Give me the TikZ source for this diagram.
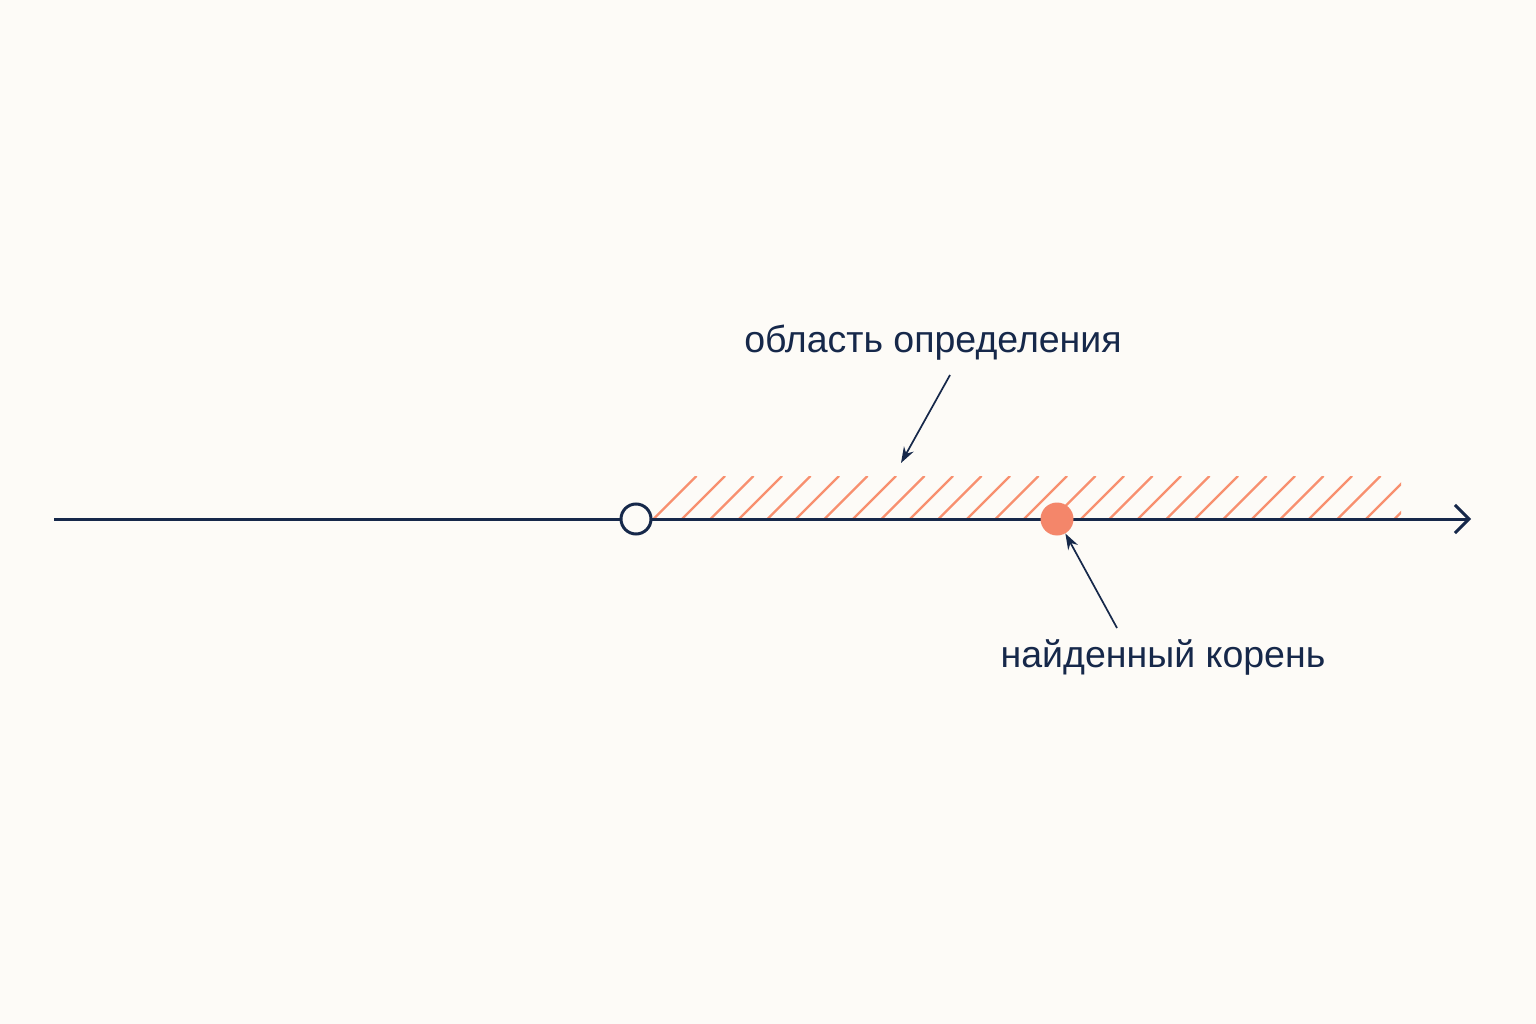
\documentclass[tikz,border=0pt]{standalone}
\usepackage{fontspec}
\setmainfont{Liberation Sans}
\usetikzlibrary{arrows.meta}
\definecolor{navy}{HTML}{16284A}
\definecolor{bgc}{HTML}{FDFBF7}
\definecolor{coral}{HTML}{F4866A}
\definecolor{hatchc}{HTML}{F8906F}
\begin{document}
\begin{tikzpicture}[x=1pt,y=-1pt,
  axisline/.style={draw=navy,line width=3pt},
  pointer/.style={draw=navy,line width=1.7pt,-{Stealth[length=16pt,width=11pt]}},
  lbl/.style={text=navy,font=\fontsize{37.5}{42}\selectfont,inner sep=0pt}]
\fill[bgc] (0,0) rectangle (1536,1024);
\useasboundingbox (0,0) rectangle (1536,1024);
% hatching
\begin{scope}
\clip (652,476) rectangle (1401,519);
\foreach \i in {1,...,28}{
  \draw[hatchc,line width=2.2pt] ({625+28.5*\i},519) -- ({625+28.5*\i+43},476);
}
\end{scope}
\coordinate (start) at (54,519);
\coordinate (tip) at (1471,519);
\draw[axisline,-{Straight Barb[length=14pt,width=28pt,line width=3pt]}] (start) -- (tip);
\node[circle,draw=navy,line width=3pt,fill=bgc,minimum size=30pt,inner sep=0pt] (hole) at (636,519) {};
\node[circle,fill=coral,minimum size=33pt,inner sep=0pt] (root) at (1057,519) {};
\node[lbl] (dom) at (933,343) {область определения};
\node[lbl] (rt) at (1163,657) {найденный корень};
\coordinate (domtip) at (901,463);
\draw[pointer] (950,375) -- (domtip);
\draw[pointer] (1117,628) -- (root.-60);
\end{tikzpicture}
\end{document}
